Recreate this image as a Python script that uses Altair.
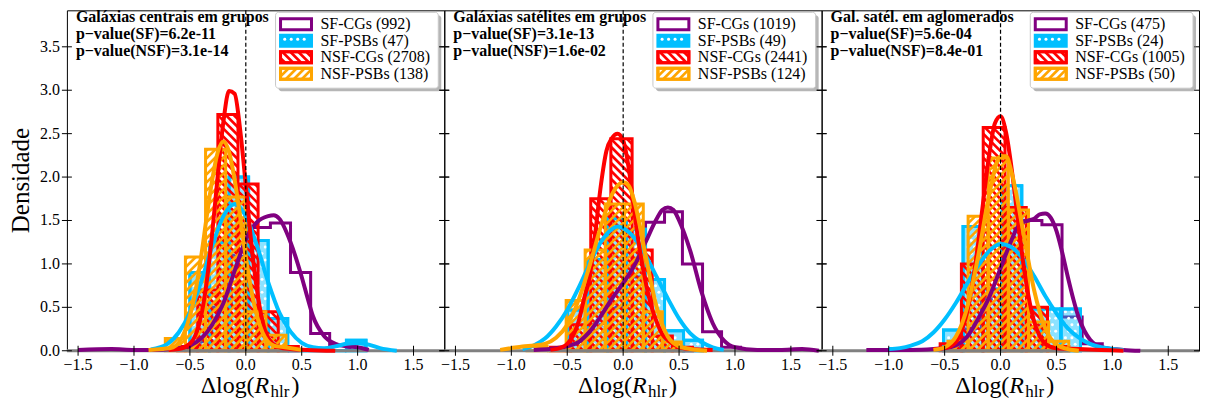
import math
import altair as alt
import pandas as pd

SERIF = "Liberation Serif"
SERIES = ["SF-CGs", "SF-PSBs", "NSF-CGs", "NSF-PSBs"]
COLORS = ["#800080", "#00BFFF", "#FF0000", "#FFA500"]

TITLES = ["Galáxias centrais em grupos", "Galáxias satélites em grupos", "Gal. satél. em aglomerados"]
P_SF = ["6.2e-11", "3.1e-13", "5.6e-04"]
P_NSF = ["3.1e-14", "1.6e-02", "8.4e-01"]
N_CEN = [992, 47, 2708, 138]
N_SAT = [1019, 49, 2441, 124]
N_CLU = [475, 24, 1005, 50]

X_TICKS = [-1.5, -1.0, -0.5, 0.0, 0.5, 1.0, 1.5]
X_LABELS = ["\u22121.5", "\u22121.0", "\u22120.5", "0.0", "0.5", "1.0", "1.5"]
Y_TICKS = [0.0, 0.5, 1.0, 1.5, 2.0, 2.5, 3.0, 3.5]
Y_LABELS = ["0.0", "0.5", "1.0", "1.5", "2.0", "2.5", "3.0", "3.5"]

# ---------------- Panel 1: centrais em grupos ----------------
CEN_SFCG_EDGES = [-0.48, -0.305, -0.13, 0.045, 0.22, 0.40, 0.58, 0.75, 0.93]
CEN_SFCG_H = [0.10, 0.50, 1.10, 1.42, 1.47, 0.90, 0.20, 0.06]
CEN_SFPSB_EDGES = [-0.5, -0.325, -0.15, 0.025, 0.2, 0.375, 0.55, 0.725, 0.9, 1.075]
CEN_SFPSB_H = [0.90, 1.25, 2.00, 1.27, 0.37, 0.0, 0.0, 0.0, 0.12]
CEN_NSFCG_EDGES = [-0.61, -0.43, -0.25, -0.07, 0.11, 0.29, 0.47]
CEN_NSFCG_H = [0.05, 0.70, 2.72, 1.92, 0.45, 0.05]
CEN_NSFPSB_EDGES = [-0.72, -0.54, -0.36, -0.18, 0.0, 0.18, 0.36]
CEN_NSFPSB_H = [0.14, 1.08, 2.32, 1.77, 0.45, 0.18]

CEN_SFCG_KX = [-1.5, -1.2, -1.0, -0.8, -0.6, -0.5, -0.4, -0.3, -0.2, -0.1, 0.0, 0.05, 0.1, 0.2, 0.25, 0.3, 0.4, 0.5, 0.55, 0.6, 0.7, 0.8, 0.9, 1.0, 1.1]
CEN_SFCG_KY = [0.01, 0.02, 0.01, 0.01, 0.03, 0.06, 0.14, 0.30, 0.55, 0.92, 1.28, 1.40, 1.48, 1.55, 1.56, 1.52, 1.25, 0.85, 0.62, 0.40, 0.17, 0.08, 0.05, 0.04, 0.01]
CEN_SFPSB_KX = [-0.85, -0.7, -0.6, -0.5, -0.4, -0.3, -0.2, -0.1, 0.0, 0.1, 0.2, 0.3, 0.4, 0.5, 0.6, 0.7, 0.8, 0.9, 1.0, 1.1, 1.2, 1.35]
CEN_SFPSB_KY = [0.015, 0.08, 0.21, 0.44, 0.79, 1.21, 1.55, 1.69, 1.55, 1.21, 0.79, 0.44, 0.22, 0.09, 0.04, 0.03, 0.05, 0.08, 0.09, 0.07, 0.03, 0.0]
CEN_NSFCG_KX = [-0.69, -0.6, -0.5, -0.45, -0.4, -0.35, -0.3, -0.25, -0.2, -0.15, -0.1, -0.05, 0.0, 0.05, 0.1, 0.15, 0.2, 0.3, 0.4, 0.55, 0.8]
CEN_NSFCG_KY = [0.01, 0.02, 0.08, 0.18, 0.40, 0.79, 1.36, 2.03, 2.64, 2.99, 2.96, 2.54, 1.90, 1.23, 0.70, 0.34, 0.15, 0.04, 0.02, 0.01, 0.0]
CEN_NSFPSB_KX = [-0.87, -0.75, -0.65, -0.55, -0.5, -0.45, -0.4, -0.35, -0.3, -0.25, -0.2, -0.15, -0.1, -0.05, 0.0, 0.05, 0.1, 0.15, 0.25, 0.35, 0.5]
CEN_NSFPSB_KY = [0.01, 0.02, 0.04, 0.21, 0.40, 0.69, 1.08, 1.54, 1.97, 2.29, 2.41, 2.29, 1.97, 1.54, 1.08, 0.69, 0.40, 0.21, 0.06, 0.04, 0.01]

# ---------------- Panel 2: satélites em grupos ----------------
SAT_SFCG_EDGES = [-0.48, -0.31, -0.14, 0.03, 0.2, 0.37, 0.53, 0.71, 0.88, 1.05]
SAT_SFCG_H = [0.08, 0.30, 0.50, 0.85, 1.48, 1.60, 1.00, 0.22, 0.04]
SAT_SFPSB_EDGES = [-0.5, -0.32, -0.14, 0.03, 0.2, 0.37, 0.54, 0.71]
SAT_SFPSB_H = [0.47, 1.05, 1.52, 1.40, 0.82, 0.23, 0.12]
SAT_NSFCG_EDGES = [-0.65, -0.47, -0.29, -0.11, 0.08, 0.26, 0.44, 0.62]
SAT_NSFCG_H = [0.04, 0.30, 1.75, 2.44, 1.16, 0.17, 0.04]
SAT_NSFPSB_EDGES = [-0.86, -0.68, -0.51, -0.34, -0.16, 0.01, 0.18, 0.35, 0.52]
SAT_NSFPSB_H = [0.05, 0.0, 0.58, 1.16, 1.69, 1.69, 0.45, 0.10]

SAT_SFCG_KX = [-0.8, -0.6, -0.5, -0.4, -0.3, -0.2, -0.1, 0.0, 0.1, 0.2, 0.3, 0.35, 0.4, 0.45, 0.5, 0.6, 0.7, 0.8, 0.9, 1.0, 1.2, 1.4, 1.6, 1.75]
SAT_SFCG_KY = [0.01, 0.03, 0.05, 0.10, 0.22, 0.40, 0.60, 0.78, 0.98, 1.25, 1.52, 1.62, 1.65, 1.62, 1.50, 1.15, 0.68, 0.32, 0.12, 0.04, 0.01, 0.01, 0.02, 0.0]
SAT_SFPSB_KX = [-0.9, -0.8, -0.7, -0.6, -0.5, -0.4, -0.3, -0.2, -0.1, -0.05, 0.0, 0.1, 0.2, 0.3, 0.4, 0.5, 0.6, 0.7, 0.8, 0.9]
SAT_SFPSB_KY = [0.02, 0.06, 0.14, 0.28, 0.47, 0.72, 1.00, 1.25, 1.40, 1.43, 1.41, 1.30, 1.10, 0.85, 0.60, 0.37, 0.20, 0.10, 0.04, 0.01]
SAT_NSFCG_KX = [-0.65, -0.55, -0.5, -0.45, -0.4, -0.35, -0.3, -0.25, -0.2, -0.15, -0.1, -0.05, 0.0, 0.05, 0.1, 0.15, 0.2, 0.25, 0.3, 0.35, 0.4, 0.5, 0.6, 0.8]
SAT_NSFCG_KY = [0.01, 0.04, 0.08, 0.17, 0.33, 0.60, 0.85, 1.35, 1.90, 2.30, 2.45, 2.50, 2.42, 2.10, 1.60, 1.15, 0.80, 0.52, 0.33, 0.19, 0.12, 0.04, 0.02, 0.01]
SAT_NSFPSB_KX = [-1.1, -1.0, -0.9, -0.8, -0.7, -0.6, -0.5, -0.4, -0.3, -0.2, -0.1, 0.0, 0.05, 0.1, 0.2, 0.25, 0.3, 0.35, 0.4, 0.5, 0.6, 0.75]
SAT_NSFPSB_KY = [0.01, 0.03, 0.05, 0.06, 0.08, 0.15, 0.30, 0.58, 0.98, 1.43, 1.80, 1.94, 1.90, 1.72, 1.10, 0.78, 0.50, 0.30, 0.16, 0.05, 0.02, 0.0]

# ---------------- Panel 3: satélites em aglomerados ----------------
CLU_SFCG_EDGES = [-0.53, -0.35, -0.17, 0.01, 0.19, 0.37, 0.55, 0.73, 0.91]
CLU_SFCG_H = [0.05, 0.25, 0.60, 1.20, 1.50, 1.45, 0.39, 0.08]
CLU_SFPSB_EDGES = [-0.51, -0.335, -0.16, 0.015, 0.19, 0.365, 0.54, 0.715]
CLU_SFPSB_H = [0.24, 1.43, 0.71, 1.90, 0.48, 0.48, 0.48]
CLU_NSFCG_EDGES = [-0.54, -0.35, -0.155, 0.04, 0.23, 0.42, 0.61]
CLU_NSFCG_H = [0.08, 1.00, 2.57, 1.65, 0.50, 0.05]
CLU_NSFPSB_EDGES = [-0.47, -0.29, -0.11, 0.07, 0.25, 0.43, 0.61]
CLU_NSFPSB_H = [0.11, 1.55, 2.22, 1.62, 0.33, 0.11]

CLU_SFCG_KX = [-1.2, -1.0, -0.8, -0.6, -0.5, -0.4, -0.3, -0.2, -0.1, 0.0, 0.1, 0.15, 0.2, 0.25, 0.3, 0.35, 0.4, 0.45, 0.5, 0.55, 0.6, 0.65, 0.7, 0.75, 0.8, 0.85, 0.9, 1.0, 1.1, 1.25]
CLU_SFCG_KY = [0.01, 0.01, 0.01, 0.02, 0.03, 0.06, 0.16, 0.37, 0.62, 0.95, 1.28, 1.42, 1.48, 1.50, 1.52, 1.57, 1.58, 1.53, 1.38, 1.14, 0.86, 0.60, 0.38, 0.23, 0.13, 0.07, 0.04, 0.02, 0.01, 0.0]
CLU_SFPSB_KX = [-1.0, -0.9, -0.8, -0.7, -0.6, -0.5, -0.4, -0.3, -0.2, -0.1, 0.0, 0.1, 0.2, 0.3, 0.4, 0.5, 0.6, 0.7, 0.8, 0.9, 1.0, 1.1]
CLU_SFPSB_KY = [0.02, 0.03, 0.06, 0.11, 0.21, 0.36, 0.55, 0.77, 0.98, 1.15, 1.23, 1.19, 1.06, 0.86, 0.63, 0.43, 0.26, 0.15, 0.08, 0.04, 0.02, 0.01]
CLU_NSFCG_KX = [-0.6, -0.5, -0.4, -0.35, -0.3, -0.25, -0.2, -0.15, -0.1, -0.05, 0.0, 0.05, 0.1, 0.15, 0.2, 0.25, 0.3, 0.35, 0.4, 0.5, 0.7, 0.9, 1.1]
CLU_NSFCG_KY = [0.02, 0.03, 0.10, 0.22, 0.44, 0.78, 1.24, 1.77, 2.27, 2.62, 2.70, 2.51, 2.09, 1.56, 1.04, 0.63, 0.34, 0.17, 0.08, 0.03, 0.02, 0.01, 0.0]
CLU_NSFPSB_KX = [-0.6, -0.5, -0.4, -0.3, -0.2, -0.1, 0.0, 0.05, 0.1, 0.2, 0.3, 0.4, 0.5, 0.6, 0.7]
CLU_NSFPSB_KY = [0.01, 0.04, 0.16, 0.49, 1.09, 1.81, 2.24, 2.24, 2.05, 1.39, 0.70, 0.26, 0.07, 0.02, 0.0]

PANELS = [
    dict(title=TITLES[0], psf=P_SF[0], pnsf=P_NSF[0], n=N_CEN,
         hist=[(CEN_SFCG_EDGES, CEN_SFCG_H), (CEN_SFPSB_EDGES, CEN_SFPSB_H),
               (CEN_NSFCG_EDGES, CEN_NSFCG_H), (CEN_NSFPSB_EDGES, CEN_NSFPSB_H)],
         kde=[(CEN_SFCG_KX, CEN_SFCG_KY), (CEN_SFPSB_KX, CEN_SFPSB_KY),
              (CEN_NSFCG_KX, CEN_NSFCG_KY), (CEN_NSFPSB_KX, CEN_NSFPSB_KY)]),
    dict(title=TITLES[1], psf=P_SF[1], pnsf=P_NSF[1], n=N_SAT,
         hist=[(SAT_SFCG_EDGES, SAT_SFCG_H), (SAT_SFPSB_EDGES, SAT_SFPSB_H),
               (SAT_NSFCG_EDGES, SAT_NSFCG_H), (SAT_NSFPSB_EDGES, SAT_NSFPSB_H)],
         kde=[(SAT_SFCG_KX, SAT_SFCG_KY), (SAT_SFPSB_KX, SAT_SFPSB_KY),
              (SAT_NSFCG_KX, SAT_NSFCG_KY), (SAT_NSFPSB_KX, SAT_NSFPSB_KY)]),
    dict(title=TITLES[2], psf=P_SF[2], pnsf=P_NSF[2], n=N_CLU,
         hist=[(CLU_SFCG_EDGES, CLU_SFCG_H), (CLU_SFPSB_EDGES, CLU_SFPSB_H),
               (CLU_NSFCG_EDGES, CLU_NSFCG_H), (CLU_NSFPSB_EDGES, CLU_NSFPSB_H)],
         kde=[(CLU_SFCG_KX, CLU_SFCG_KY), (CLU_SFPSB_KX, CLU_SFPSB_KY),
              (CLU_NSFCG_KX, CLU_NSFCG_KY), (CLU_NSFPSB_KX, CLU_NSFPSB_KY)]),
]

W, H = 378, 341
XMIN, XMAX = -1.6, 1.775
YMAX = 3.92
KX = W / (XMAX - XMIN)   # px per x unit
KY = H / YMAX            # px per y unit
HATCH_STEP = 8.0
DOT_STEP = 6.5


def bars_of(edges, heights):
    return [(edges[i], edges[i + 1], 0.0, heights[i]) for i in range(len(heights))]


def rect_df(edges, heights):
    return pd.DataFrame({"x0": edges[:-1], "x1": edges[1:], "h": heights, "b": [0.0] * len(heights)})


def step_df(edges, heights):
    xs = [edges[0]] + list(edges[:-1]) + [edges[-1]]
    ys = [0.0] + list(heights) + [0.0]
    return pd.DataFrame({"x": xs, "y": ys, "i": list(range(len(xs)))})


def hatch_df(bars, direction):
    rows = []
    for x0, x1, y0, y1 in bars:
        u0, u1, v0, v1 = x0 * KX, x1 * KX, y0 * KY, y1 * KY
        if v1 - v0 < 0.5:
            continue
        if direction == "/":
            n0 = math.ceil((v0 - u1) / HATCH_STEP)
            n1 = math.floor((v1 - u0) / HATCH_STEP)
            for n in range(n0, n1 + 1):
                c = n * HATCH_STEP
                lo, hi = max(u0, v0 - c), min(u1, v1 - c)
                if hi - lo > 0.3:
                    rows.append((lo / KX, (lo + c) / KY, hi / KX, (hi + c) / KY))
        else:
            n0 = math.ceil((v0 + u0) / HATCH_STEP)
            n1 = math.floor((v1 + u1) / HATCH_STEP)
            for n in range(n0, n1 + 1):
                c = n * HATCH_STEP
                lo, hi = max(u0, c - v1), min(u1, c - v0)
                if hi - lo > 0.3:
                    rows.append((lo / KX, (c - lo) / KY, hi / KX, (c - hi) / KY))
    return pd.DataFrame(rows, columns=["x", "y", "x2", "y2"])


def dots_df(bars):
    rows = []
    for x0, x1, y0, y1 in bars:
        u0, u1, v0, v1 = x0 * KX, x1 * KX, y0 * KY, y1 * KY
        j0 = math.ceil((v0 + 2) / DOT_STEP)
        j1 = math.floor((v1 - 2) / DOT_STEP)
        for j in range(j0, j1 + 1):
            off = 0.5 * DOT_STEP if j % 2 else 0.0
            i0 = math.ceil((u0 + 2 - off) / DOT_STEP)
            i1 = math.floor((u1 - 2 - off) / DOT_STEP)
            for i in range(i0, i1 + 1):
                rows.append(((i * DOT_STEP + off) / KX, j * DOT_STEP / KY))
    return pd.DataFrame(rows, columns=["x", "y"])


ONE = pd.DataFrame({"a": [0]})


def text_layer(txt, x, y, size=16, weight="normal", style="normal", align="left",
               baseline="alphabetic", angle=0):
    return alt.Chart(ONE).mark_text(
        text=txt, font=SERIF, fontSize=size, fontWeight=weight, fontStyle=style,
        align=align, baseline=baseline, color="black", angle=angle
    ).encode(x=alt.value(x), y=alt.value(y))


def box_layer(x0, x1, y0, y1, **kw):
    return alt.Chart(ONE).mark_rect(**kw).encode(
        x=alt.value(x0), x2=alt.value(x1), y=alt.value(y0), y2=alt.value(y1))


def make_panel(k, p):
    xs = alt.Scale(domain=[XMIN, XMAX], nice=False, zero=False)
    ys = alt.Scale(domain=[0, YMAX], nice=False, zero=False)
    X = lambda f: alt.X(f, scale=xs, axis=None)
    Y = lambda f: alt.Y(f, scale=ys, axis=None)

    def hatch_layer(bars, direction, color):
        return alt.Chart(hatch_df(bars, direction)).mark_rule(
            color=color, strokeWidth=2.6, strokeCap="butt").encode(
            x=X("x:Q"), y=Y("y:Q"), x2="x2:Q", y2="y2:Q")

    def dots_layer(bars):
        return alt.Chart(dots_df(bars)).mark_circle(color="white", size=9, opacity=1).encode(
            x=X("x:Q"), y=Y("y:Q"))

    def outline_layer(edges, heights, color, fill="transparent", fill_opacity=0.0):
        return alt.Chart(rect_df(edges, heights)).mark_rect(
            fill=fill, fillOpacity=fill_opacity, stroke=color, strokeWidth=3).encode(
            x=X("x0:Q"), x2="x1:Q", y=Y("h:Q"), y2="b:Q")

    layers = []
    # SF-CGs: step outline
    e, h = p["hist"][0]
    layers.append(alt.Chart(step_df(e, h)).mark_line(
        interpolate="step-after", color=COLORS[0], strokeWidth=3, strokeJoin="miter").encode(
        x=X("x:Q"), y=Y("y:Q"), order="i:Q"))
    # SF-PSBs: cyan with white dots
    e, h = p["hist"][1]
    layers.append(outline_layer(e, h, COLORS[1], fill=COLORS[1], fill_opacity=0.45))
    layers.append(dots_layer(bars_of(e, h)))
    layers.append(outline_layer(e, h, COLORS[1]))
    # NSF-CGs: red '\\' hatch
    e, h = p["hist"][2]
    layers.append(hatch_layer(bars_of(e, h), "\\", COLORS[2]))
    layers.append(outline_layer(e, h, COLORS[2]))
    # NSF-PSBs: orange '//' hatch
    e, h = p["hist"][3]
    layers.append(hatch_layer(bars_of(e, h), "/", COLORS[3]))
    layers.append(outline_layer(e, h, COLORS[3]))
    # gray zero line
    layers.append(alt.Chart(pd.DataFrame({"z": [0.0]})).mark_rule(color="#808080", strokeWidth=3).encode(
        y=Y("z:Q")))
    # KDE curves
    for s in range(4):
        kx, ky = p["kde"][s]
        layers.append(alt.Chart(pd.DataFrame({"x": kx, "y": ky})).mark_line(
            interpolate="monotone", color=COLORS[s], strokeWidth=4).encode(
            x=X("x:Q"), y=Y("y:Q")))
    # dashed zero line
    layers.append(alt.Chart(pd.DataFrame({"z": [0.0]})).mark_rule(
        color="black", strokeDash=[4, 2.5], strokeWidth=1.2).encode(x=X("z:Q")))
    # in-out ticks
    layers.append(alt.Chart(pd.DataFrame({"v": X_TICKS})).mark_rule(color="black", strokeWidth=1).encode(
        x=X("v:Q"), y=alt.value(H - 5), y2=alt.value(H + 5)))
    layers.append(alt.Chart(pd.DataFrame({"v": Y_TICKS})).mark_rule(color="black", strokeWidth=1).encode(
        y=Y("v:Q"), x=alt.value(-5), x2=alt.value(5)))
    right_out = W if k == 2 else W + 5
    layers.append(alt.Chart(pd.DataFrame({"v": Y_TICKS})).mark_rule(color="black", strokeWidth=1).encode(
        y=Y("v:Q"), x=alt.value(W - 5), x2=alt.value(right_out)))
    # tick labels
    layers.append(alt.Chart(pd.DataFrame({"v": X_TICKS, "t": X_LABELS})).mark_text(
        font=SERIF, fontSize=16, color="black", align="center", baseline="top").encode(
        x=X("v:Q"), y=alt.value(H + 6), text="t:N"))
    if k == 0:
        layers.append(alt.Chart(pd.DataFrame({"v": Y_TICKS, "t": Y_LABELS})).mark_text(
            font=SERIF, fontSize=16, color="black", align="right", baseline="middle").encode(
            y=Y("v:Q"), x=alt.value(-7), text="t:N"))
        layers.append(text_layer("Densidade", -46, H / 2, size=25, align="center",
                                 baseline="middle", angle=270))
    # annotation text
    layers.append(text_layer(p["title"], 9, 12, weight="bold"))
    layers.append(text_layer("p\u2212value(SF)=" + p["psf"], 9, 29, weight="bold"))
    layers.append(text_layer("p\u2212value(NSF)=" + p["pnsf"], 9, 46, weight="bold"))
    # legend
    bx0, bx1, by0, by1 = W - 6 - 163, W - 6, 2, 78
    layers.append(box_layer(bx0 + 3, bx1 + 3, by0 + 3, by1 + 3, color="#7a7a7a", opacity=0.55, cornerRadius=3))
    layers.append(box_layer(bx0, bx1, by0, by1, fill="white", stroke="#c8c8c8", strokeWidth=1, cornerRadius=3))
    rows = [14, 30.5, 47, 63.5]
    for s in range(4):
        yc = rows[s]
        px0, px1, py0, py1 = bx0 + 5, bx0 + 36, yc - 5.5, yc + 5.5
        patch = [(XMIN + px0 / KX, XMIN + px1 / KX, YMAX - py1 / KY, YMAX - py0 / KY)]
        if s == 0:
            layers.append(box_layer(px0, px1, py0, py1, fill="white", stroke=COLORS[0], strokeWidth=3))
        elif s == 1:
            layers.append(box_layer(px0, px1, py0, py1, fill=COLORS[1], stroke=COLORS[1], strokeWidth=3))
            layers.append(dots_layer(patch))
        else:
            layers.append(box_layer(px0, px1, py0, py1, fill="white", stroke=COLORS[s], strokeWidth=3))
            layers.append(hatch_layer(patch, "\\" if s == 2 else "/", COLORS[s]))
            layers.append(box_layer(px0, px1, py0, py1, fill="transparent", stroke=COLORS[s], strokeWidth=3))
        layers.append(text_layer(f"{SERIES[s]} ({p['n'][s]})", bx0 + 45, yc, baseline="middle"))
    # x title: Δlog(R_hlr)
    c = W / 2
    layers.append(text_layer("\u0394log(", c - 1, 383, size=24, align="right"))
    layers.append(text_layer("R", c - 1, 383, size=24, style="italic"))
    layers.append(text_layer("hlr", c + 15, 387, size=17))
    layers.append(text_layer(")", c + 36, 383, size=24))
    return alt.layer(*layers).properties(width=W, height=H)


charts = [make_panel(k, p) for k, p in enumerate(PANELS)]
chart = alt.hconcat(*charts, spacing=0, bounds="flush").properties(
    padding={"left": 0, "top": 0, "right": 0, "bottom": 0}
).configure_view(stroke="black", strokeWidth=1)

chart.save("out.html", embed_options={"renderer": "svg", "actions": False})
